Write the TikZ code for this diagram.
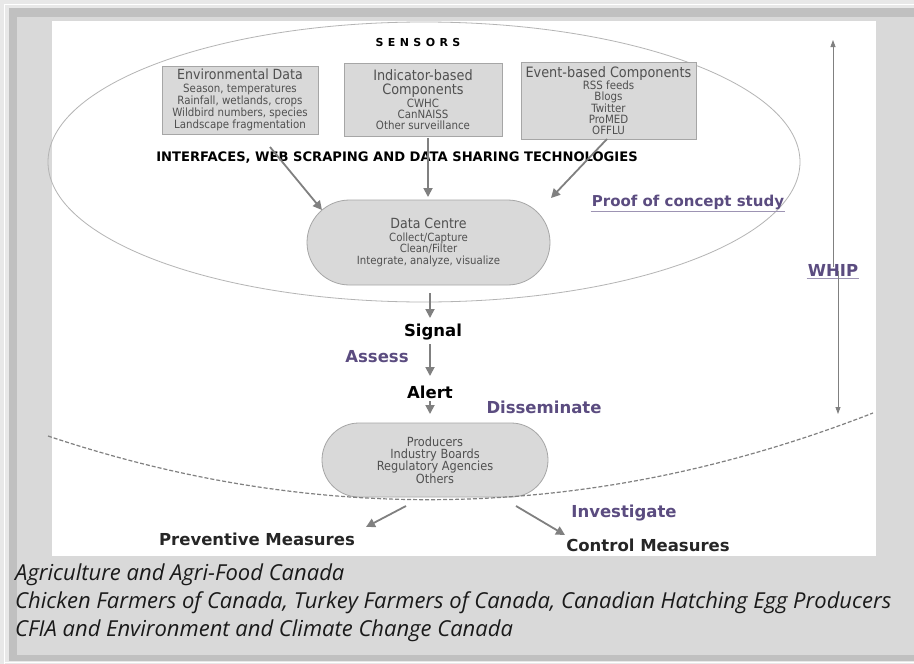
\documentclass[tikz,border=0pt]{standalone}
\usepackage{fontspec}
\setmainfont{DejaVu Sans}
\newfontfamily\footfont{Open Sans}
\newfontfamily\condfont{DejaVu Sans Condensed}
\usetikzlibrary{shapes.misc,arrows.meta}
\definecolor{outerbg}{HTML}{E8E8E8}
\definecolor{framegray}{HTML}{C0C0C0}
\definecolor{panelgray}{HTML}{D9D9D9}
\definecolor{boxfill}{HTML}{D9D9D9}
\definecolor{boxline}{HTML}{A6A6A6}
\definecolor{boxtext}{HTML}{505050}
\definecolor{arrowgray}{HTML}{808080}
\definecolor{purp}{HTML}{5B4C80}
\definecolor{ellgray}{HTML}{B4B4B4}
\definecolor{foottext}{HTML}{1A1A1A}
\newcommand{\myfs}[2]{\fontsize{#1}{#2}\selectfont}
\begin{document}
\begin{tikzpicture}[x=1pt,y=-1pt,
  infobox/.style={draw=boxline, fill=boxfill, text=boxtext, align=center, inner sep=0pt, line width=0.8pt, font=\condfont\myfs{11.4}{10.9}},
  pill/.style={rounded rectangle, draw=boxline, fill=boxfill, text=boxtext, align=center, inner sep=0pt, line width=0.8pt},
  arr/.style={draw=arrowgray, line width=1.8pt, -{Triangle[length=9pt,width=9pt]}},
  thinarr/.style={draw=arrowgray, line width=0.8pt, -{Triangle[length=7pt,width=5pt]}},
  blacklabel/.style={text=black, font=\bfseries\myfs{16.5}{18}, inner sep=1pt},
  purplabel/.style={text=purp, font=\bfseries\myfs{16.5}{18}, inner sep=1pt},
  footline/.style={anchor=west, text=foottext, font=\footfont\itshape\myfs{22}{24}, inner sep=0pt}
]
\useasboundingbox (0,0) rectangle (914,664);
% frame and panels
\fill[outerbg] (0,0) rectangle (914,664);
\draw[white, line width=1.5pt] (4.5,670) -- (4.5,4.5) -- (920,4.5);
\draw[white, line width=1.5pt] (4.5,662.3) -- (920,662.3);
\fill[framegray] (9,8) rectangle (914,660.5);
\fill[panelgray] (17,17) rectangle (914,655);
\fill[white] (52,21) rectangle (876,556);

% sensors ellipse
\draw[ellgray, line width=0.8pt] (424,162) ellipse [x radius=376, y radius=140];
\node[text=black, font=\bfseries\myfs{11}{13}\addfontfeatures{LetterSpace=40}, inner sep=0pt] (sens) at (418,42) {SENSORS};

% component boxes
\node[infobox, minimum width=156pt, minimum height=68pt] (env) at (240,100)
  {{\myfs{14}{14}Environmental Data}\\[2pt]Season, temperatures\\Rainfall, wetlands, crops\\Wildbird numbers, species\\Landscape fragmentation};
\node[infobox, minimum width=158pt, minimum height=73pt] (ind) at (423,99.5)
  {{\myfs{14.3}{14}Indicator-based}\\[3pt]{\myfs{14.3}{14}Components}\\[1pt]CWHC\\CanNAISS\\Other surveillance};
\node[infobox, minimum width=175pt, minimum height=77pt] (evt) at (608.5,100.5)
  {{\myfs{14.3}{14}Event-based Components}\\[0pt]RSS feeds\\Blogs\\Twitter\\ProMED\\OFFLU};

\node[text=black, font=\bfseries\myfs{13.1}{15}, inner sep=0pt] (ifc) at (397,158)
  {INTERFACES, WEB SCRAPING AND DATA SHARING TECHNOLOGIES};

% data centre
\node[pill, minimum width=243pt, minimum height=85pt, font=\condfont\myfs{11.3}{11.5}] (dc) at (428.5,242.5)
  {{\myfs{14}{14}Data Centre}\\[1pt]Collect/Capture\\Clean/Filter\\Integrate, analyze, visualize};

\coordinate (a1s) at (270,147);
\coordinate (a1e) at (322,210);
\coordinate (a2s) at (428,138);
\coordinate (a2e) at (428,197);
\coordinate (a3s) at (607,139);
\coordinate (a3e) at (551,198);
\draw[arr] (a1s) -- (a1e);
\draw[arr] (a2s) -- (a2e);
\draw[arr] (a3s) -- (a3e);

\node[text=purp, font=\bfseries\myfs{15}{17}, inner sep=1pt] (proof) at (688,202) {Proof of concept study};
\draw[purp!60, line width=0.7pt] ([yshift=-1pt]proof.south west) -- ([yshift=-1pt]proof.south east);

% signal chain
\node[blacklabel] (sig) at (433,332) {Signal};
\node[blacklabel] (alr) at (430,392) {Alert};
\node[purplabel] (ass) at (377,357) {Assess};
\node[purplabel] (dis) at (544,407) {Disseminate};
\coordinate (b1s) at (430,293);
\coordinate (b1e) at (430,318);
\coordinate (b2s) at (430,344);
\coordinate (b2e) at (430,376);
\coordinate (b3s) at (430,401);
\coordinate (b3e) at (430,414);
\draw[arr] (b1s) -- (b1e);
\draw[arr] (b2s) -- (b2e);
\draw[arr] (b3s) -- (b3e);

% recipients
\node[pill, minimum width=226pt, minimum height=74pt, font=\condfont\myfs{12.6}{12.3}] (prod) at (435,460)
  {Producers\\Industry Boards\\Regulatory Agencies\\Others};

% dashed boundary
\coordinate (dl) at (48,436);
\coordinate (dr) at (873,413);
\draw[arrowgray, line width=1.2pt, dash pattern=on 4pt off 2pt] (dl) .. controls (322.7,528) and (597.7,520.3) .. (dr);

% measures
\node[blacklabel, text=black!85] (prev) at (257,539) {Preventive Measures};
\node[blacklabel, text=black!85] (ctrl) at (648,545) {Control Measures};
\node[purplabel] (inv) at (624,513) {Investigate};
\coordinate (c1s) at (406,506);
\coordinate (c1e) at (366,527);
\coordinate (c2s) at (516,506);
\coordinate (c2e) at (565,535);
\draw[arr] (c1s) -- (c1e);
\draw[arr] (c2s) -- (c2e);

% WHIP
\node[purplabel] (whip) at (833,270) {WHIP};
\draw[purp!60, line width=0.7pt] ([yshift=-1pt]whip.south west) -- ([yshift=-1pt]whip.south east);
\coordinate (w1t) at (833,40);
\coordinate (w2t) at (838,414);
\draw[thinarr] ([yshift=-4pt]whip.north -| w1t) -- (w1t);
\draw[thinarr] ([yshift=6pt]whip.south -| w2t) -- (w2t);

% footer
\node[footline] (f1) at (15,575) {Agriculture and Agri-Food Canada};
\node[footline] (f2) at (15,603) {Chicken Farmers of Canada, Turkey Farmers of Canada, Canadian Hatching Egg Producers};
\node[footline] (f3) at (15,631) {CFIA and Environment and Climate Change Canada};
\end{tikzpicture}
\end{document}
